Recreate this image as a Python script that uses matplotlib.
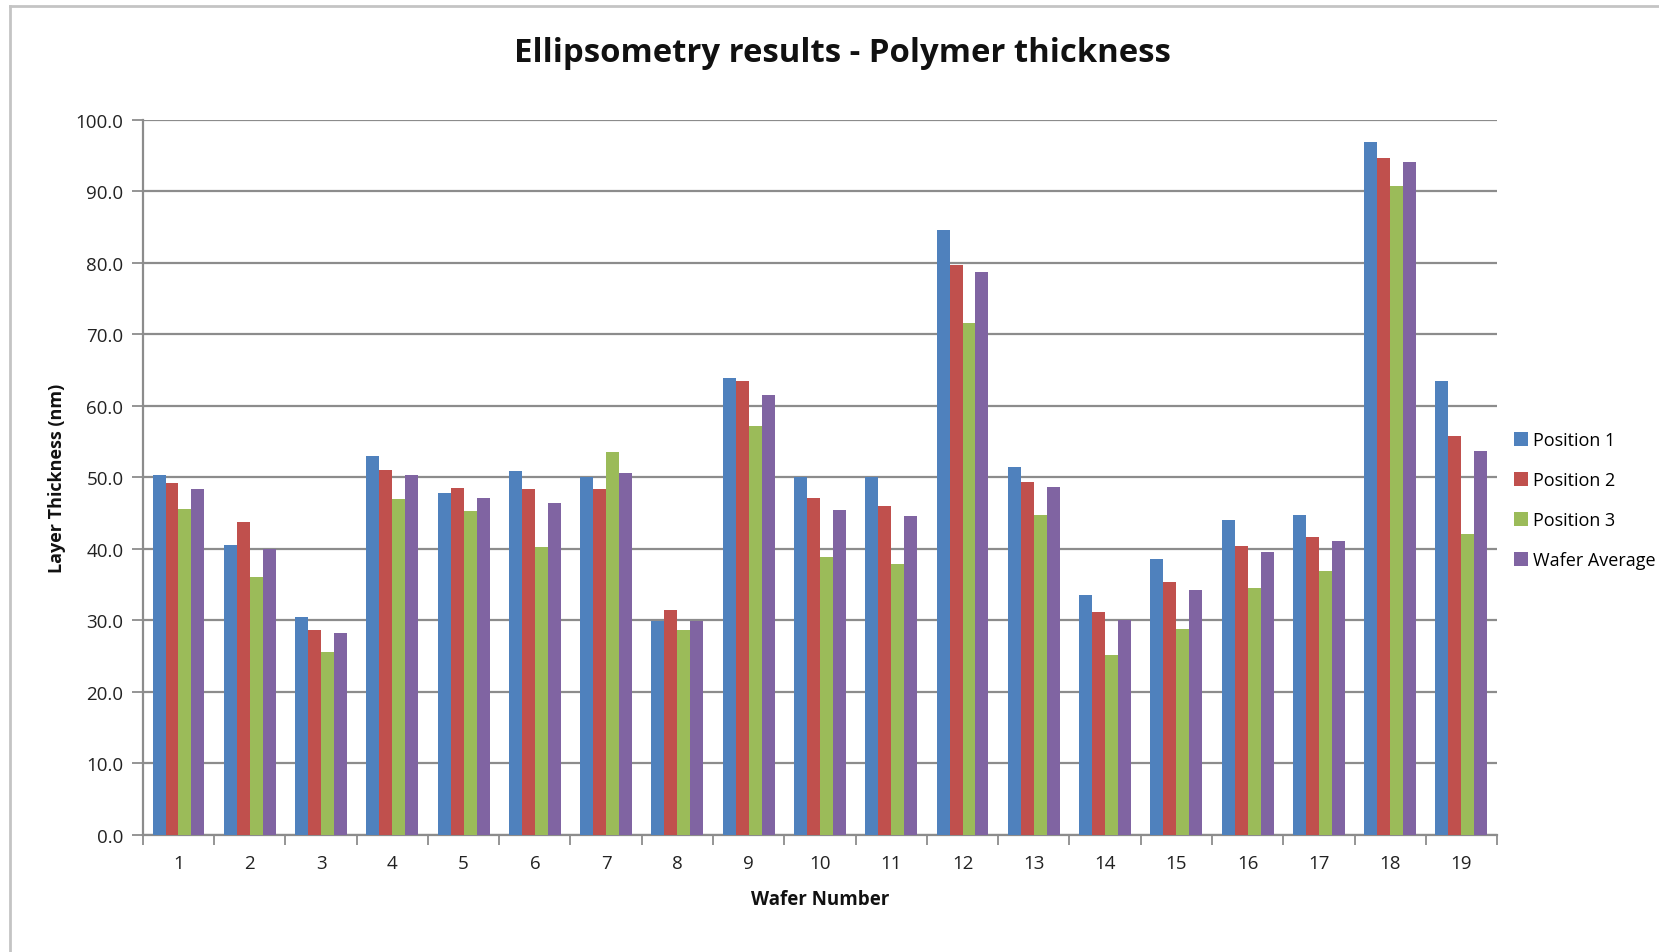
import numpy as np
import matplotlib
matplotlib.use("Agg")
import matplotlib.pyplot as plt
from matplotlib.lines import Line2D
from matplotlib.patches import Patch

# Wafer numbers and measured polymer thickness (nm)
wafers = [str(i) for i in range(1, 20)]
position_1 = [50.3, 40.5, 30.5, 53.0, 47.8, 50.8, 50.0, 29.9, 63.9, 50.0,
              50.1, 84.6, 51.4, 33.5, 38.5, 44.0, 44.7, 96.9, 63.5]
position_2 = [49.2, 43.7, 28.7, 51.0, 48.5, 48.3, 48.3, 31.4, 63.4, 47.1,
              46.0, 79.7, 49.4, 31.2, 35.4, 40.4, 41.7, 94.6, 55.7]
position_3 = [45.5, 36.0, 25.5, 46.9, 45.3, 40.3, 53.5, 28.6, 57.1, 38.9,
              37.8, 71.6, 44.7, 25.1, 28.8, 34.5, 36.9, 90.7, 42.1]
wafer_avg = [48.4, 40.0, 28.2, 50.3, 47.1, 46.4, 50.6, 29.9, 61.5, 45.4,
             44.6, 78.7, 48.6, 30.0, 34.2, 39.6, 41.1, 94.1, 53.7]
series_names = ["Position 1", "Position 2", "Position 3", "Wafer Average"]
y_ticks = [0, 10, 20, 30, 40, 50, 60, 70, 80, 90, 100]

colors = ["#4F81BD", "#C0504D", "#9BBB59", "#8064A2"]
font = "Open Sans"
axis_gray = "#8C8C8C"

fig = plt.figure(figsize=(16.59, 9.53), dpi=100)
ax = fig.add_axes([0.0861, 0.1229, 0.9024 - 0.0861, 0.8735 - 0.1229])

x = np.arange(len(wafers))
bar_w = 0.182
all_series = [position_1, position_2, position_3, wafer_avg]
for i, (vals, c) in enumerate(zip(all_series, colors)):
    offset = (i - 1.5) * bar_w
    ax.bar(x + offset, vals, width=bar_w, color=c, edgecolor="none", zorder=3)

ax.set_xlim(-0.5, len(wafers) - 0.5)
ax.set_ylim(0, 100)

# y axis: one decimal labels, outward ticks, horizontal gridlines
ax.set_yticks(y_ticks)
ax.set_yticklabels([f"{v:.1f}" for v in y_ticks], fontfamily=font, fontsize=13.5,
                   color="#222222")
ax.yaxis.grid(True, color=axis_gray, linewidth=1.6, zorder=0)
ax.tick_params(axis="y", direction="out", length=8, width=1.3, color=axis_gray, pad=6)

# x axis: ticks between groups, labels centered on groups
ax.set_xticks(np.arange(-0.5, len(wafers), 1.0))
ax.set_xticklabels([])
ax.set_xticks(x, minor=True)
ax.set_xticklabels(wafers, minor=True, fontfamily=font, fontsize=13.5, color="#222222")
ax.tick_params(axis="x", which="major", direction="out", length=7, width=1.3,
               color=axis_gray)
ax.tick_params(axis="x", which="minor", length=0, pad=14)

for side in ("top", "right"):
    ax.spines[side].set_visible(False)
for side in ("left", "bottom"):
    ax.spines[side].set_color(axis_gray)
    ax.spines[side].set_linewidth(1.6)

ax.set_xlabel("Wafer Number", fontfamily=font, fontweight="bold", fontsize=13.5,
              labelpad=12, color="#111111")
ax.set_ylabel("Layer Thickness (nm)", fontfamily=font, fontweight="bold",
              fontsize=13, labelpad=7, color="#111111")

fig.text(0.5077, 0.944, "Ellipsometry results - Polymer thickness", ha="center",
         va="center", fontfamily=font, fontweight="bold", fontsize=23.7,
         color="#111111")

handles = [Patch(facecolor=c, edgecolor="none") for c in colors]
leg = fig.legend(handles, series_names, loc="center left",
                 bbox_to_anchor=(0.908, 0.474), frameon=False,
                 prop={"family": font, "size": 13},
                 handlelength=0.8, handleheight=0.8, handletextpad=0.3,
                 labelspacing=1.22, borderaxespad=0)

# outer chart border (left and top edges)
fig.add_artist(Line2D([9.7 / 1659, 9.7 / 1659], [0, 1 - 7.3 / 953],
                      transform=fig.transFigure, color="#C4C4C4", linewidth=2))
fig.add_artist(Line2D([9.7 / 1659, 1], [1 - 7.3 / 953, 1 - 7.3 / 953],
                      transform=fig.transFigure, color="#C4C4C4", linewidth=2))

fig.savefig("out.png", dpi=100, facecolor="white")
